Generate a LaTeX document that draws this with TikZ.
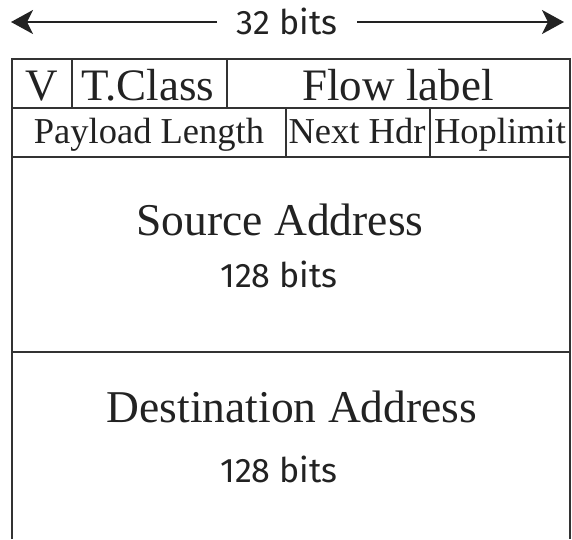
\documentclass[tikz,border=0pt]{standalone}
\usepackage{fontspec}
\setmainfont{Liberation Serif}
\newfontfamily\labsans{Fira Sans}
\usetikzlibrary{arrows.meta}
\definecolor{ink}{HTML}{222222}
\definecolor{frame}{HTML}{333333}
\begin{document}
\begin{tikzpicture}[x=1pt,y=-1pt,
  wall/.style={draw=frame,line width=2pt},
  big/.style={anchor=base,inner sep=0pt,text=ink,font=\fontsize{45}{45}\selectfont},
  mid/.style={anchor=base,inner sep=0pt,text=ink,font=\fontsize{36.5}{36.5}\selectfont},
  addr/.style={anchor=base,inner sep=0pt,text=ink,font=\fontsize{45.5}{45.5}\selectfont},
  bits/.style={anchor=base,inner sep=0pt,text=ink,font=\labsans\fontsize{34}{34}\selectfont},
  span/.style={draw=ink,line width=2pt,-{Stealth[length=22pt,width=24pt,inset=6pt]}}]
\useasboundingbox (0,0) rectangle (572,539);
% frame
\draw[wall] (12,539) -- (12,59) -- (570,59) -- (570,539);
\draw[wall] (12,108) -- (570,108);
\draw[wall] (12,157) -- (570,157);
\draw[wall] (12,352) -- (570,352);
\draw[wall] (72,59) -- (72,108);
\draw[wall] (227,59) -- (227,108);
\draw[wall] (286,108) -- (286,157);
\draw[wall] (430,108) -- (430,157);
% width label
\node[bits] (w) at (287,34) {32 bits};
\coordinate (wl) at (11,22);
\coordinate (wr) at (564,22);
\coordinate (wla) at (217,22);
\coordinate (wra) at (357,22);
\draw[span] (wla) -- (wl);
\draw[span] (wra) -- (wr);
% fields
\node[big] (v) at (42,100) {V};
\node[big] (tc) at (148,100) {T.Class};
\node[big] (fl) at (398,100) {Flow label};
\node[mid] (pl) at (149,143) {Payload Length};
\node[mid] (nh) at (357,143) {Next Hdr};
\node[mid] (hl) at (500,143) {Hoplimit};
\node[addr] (sa) at (280,235) {Source Address};
\node[bits] (sb) at (279,287) {128 bits};
\node[addr] (da) at (292,422) {Destination Address};
\node[bits] (db) at (279,482) {128 bits};
\end{tikzpicture}
\end{document}
